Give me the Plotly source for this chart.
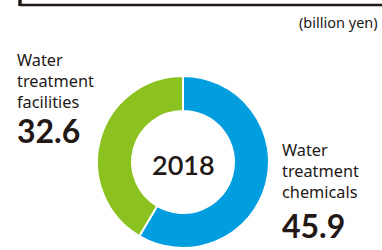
import plotly.graph_objects as go

year = "2018"
categories = ["Water treatment chemicals", "Water treatment facilities"]
values = [45.9, 32.6]
colors = ["#009ddf", "#8cc220"]
unit_label = "(billion yen)"

W, H = 382, 250
TXT = "#231815"

fig = go.Figure()
fig.add_trace(go.Pie(
    labels=categories, values=values, hole=0.593, sort=False,
    direction="clockwise", rotation=0,
    marker=dict(colors=colors, line=dict(color="white", width=2)),
    textinfo="none", hoverinfo="label+value", showlegend=False,
    domain=dict(x=[97 / W, 269 / W], y=[2 / H, 174 / H]),
))

def px(x, y):
    return x / W, 1 - y / H

ann = []
x, y = px(183, 164)
ann.append(dict(x=x, y=y, text=year, showarrow=False, xanchor="center", yanchor="middle",
                font=dict(family="Lato", size=27, color=TXT, weight=600)))
x, y = px(380, 22)
ann.append(dict(x=x, y=y, text=unit_label, showarrow=False, xanchor="right", yanchor="middle",
                font=dict(family="Noto Sans", size=14.5, color=TXT)))
x, y = px(16, 81)
ann.append(dict(x=x, y=y, text="Water<br>treatment<br>facilities", showarrow=False,
                xanchor="left", yanchor="middle", align="left", borderpad=0,
                font=dict(family="Noto Sans", size=16.3, color=TXT)))
x, y = px(16, 130.5)
ann.append(dict(x=x, y=y, text=f"{values[1]}", showarrow=False, xanchor="left", yanchor="middle",
                borderpad=0,
                font=dict(family="Lato", size=32, color=TXT, weight="bold")))
x, y = px(281, 171)
ann.append(dict(x=x, y=y, text="Water<br>treatment<br>chemicals", showarrow=False,
                xanchor="left", yanchor="middle", align="left", borderpad=0,
                font=dict(family="Noto Sans", size=16.3, color=TXT)))
x, y = px(281, 225)
ann.append(dict(x=x, y=y, text=f"{values[0]}", showarrow=False, xanchor="left", yanchor="middle",
                borderpad=0,
                font=dict(family="Lato", size=32, color=TXT, weight="bold")))

shapes = [
    dict(type="line", xref="paper", yref="paper", x0=20 / W, x1=1.01, y0=1 - 5 / H, y1=1 - 5 / H,
         line=dict(color=TXT, width=2.5)),
    dict(type="line", xref="paper", yref="paper", x0=20 / W, x1=20 / W, y0=1 - 6 / H, y1=1.01,
         line=dict(color=TXT, width=3.5)),
]

fig.update_layout(
    width=W, height=H, margin=dict(l=0, r=0, t=0, b=0),
    paper_bgcolor="white", plot_bgcolor="white",
    annotations=ann, shapes=shapes,
)
fig.write_html("out.html", config={"displayModeBar": False},
               post_script="document.body.style.margin='0';document.body.style.overflow='hidden';")
